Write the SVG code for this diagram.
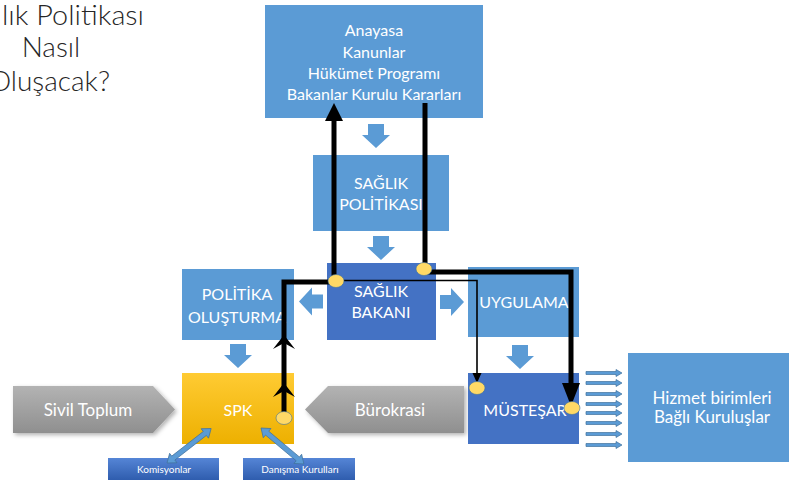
<svg xmlns="http://www.w3.org/2000/svg" width="789" height="486" viewBox="0 0 789 486">
<defs>
<style>
.box{fill:#5B9BD5;}
.dbox{fill:#4472C4;}
.t{font-family:Lato,"Liberation Sans",sans-serif;fill:#FFFFFF;text-anchor:middle;}
.m{font-size:16px;}
.g{font-size:17px;}
.s{font-size:10px;}
.title{font-family:Lato,"Liberation Sans",sans-serif;font-weight:300;font-size:28px;fill:#262626;}
.blk{fill:#5B9BD5;}
.thick{stroke:#000;stroke-width:5;fill:none;}
.thin{stroke:#000;stroke-width:1.6;fill:none;}
.dot{fill:#FFD966;stroke:#41719C;stroke-width:0.6;}
.ra{fill:#5B9BD5;stroke:#41719C;stroke-width:0.7;}
.dbl{fill:#5B9BD5;stroke:#41719C;stroke-width:0.7;}
</style>
<linearGradient id="gray" x1="0" y1="0" x2="0" y2="1">
<stop offset="0" stop-color="#B3B3B3"/>
<stop offset="1" stop-color="#8F8F8F"/>
</linearGradient>
<linearGradient id="gold" x1="0" y1="0" x2="0" y2="1">
<stop offset="0" stop-color="#FFCB33"/>
<stop offset="1" stop-color="#EDB000"/>
</linearGradient>
<linearGradient id="sb" x1="0" y1="0" x2="0" y2="1">
<stop offset="0" stop-color="#5585D6"/>
<stop offset="1" stop-color="#2F5DAE"/>
</linearGradient>
<filter id="sh" x="-10%" y="-20%" width="130%" height="150%">
<feDropShadow dx="2" dy="2" stdDeviation="2" flood-color="#000" flood-opacity="0.3"/>
</filter>
<path id="down" d="M-8,-12 H8 V-1 H14 L0,12 L-14,-1 H-8 Z"/>
<path id="left" d="M12,-7 H1 V-14 L-12,0 L1,14 V7 H12 Z"/>
<path id="rarr" d="M0,-1.5 H30 V-3.5 L36,0 L30,3.5 V1.5 H0 Z"/>
<path id="dblarr" d="M0,0 L8,-6 L8,-2.5 L48,-2.5 L48,-6 L56,0 L48,6 L48,2.5 L8,2.5 L8,6 Z"/>
</defs>

<g id="title">
<text class="title" x="2" y="25" textLength="142" lengthAdjust="spacingAndGlyphs">lık Politikası</text>
<text class="title" x="51" y="57" style="text-anchor:middle">Nasıl</text>
<text class="title" x="110" y="91" style="text-anchor:end">Oluşacak?</text>
</g>

<g id="node-anayasa">
<rect class="box" x="265" y="5" width="218" height="113"/>
<text class="t m" x="374" y="36">Anayasa</text>
<text class="t m" x="374" y="57.5">Kanunlar</text>
<text class="t m" x="374" y="79">Hükümet Programı</text>
<text class="t m" x="374" y="100">Bakanlar Kurulu Kararları</text>
</g>

<g id="node-saglik-politikasi">
<rect class="box" x="313" y="155" width="136" height="76"/>
<text class="t m" x="381" y="189">SAĞLIK</text>
<text class="t m" x="381" y="210">POLİTİKASI</text>
</g>

<g id="node-saglik-bakani">
<rect class="dbox" x="327" y="263" width="109" height="77"/>
<text class="t m" x="381" y="297">SAĞLIK</text>
<text class="t m" x="381" y="318">BAKANI</text>
</g>

<g id="node-politika-olusturma">
<rect class="box" x="182" y="269" width="112" height="71"/>
<text class="t m" x="237" y="300">POLİTİKA</text>
<text class="t m" x="237" y="323">OLUŞTURMA</text>
</g>

<g id="node-uygulama">
<rect class="box" x="468" y="267" width="111" height="70"/>
<text class="t m" x="524" y="308">UYGULAMA</text>
</g>

<g id="node-spk">
<rect x="182" y="373" width="112" height="71" fill="url(#gold)"/>
<text class="t m" x="238" y="416">SPK</text>
</g>

<g id="node-sivil-toplum">
<path d="M13,386 H153 L175,409.5 L153,433 H13 Z" fill="url(#gray)" filter="url(#sh)"/>
<text class="t g" x="88" y="416">Sivil Toplum</text>
</g>

<g id="node-burokrasi">
<path d="M305,409.5 L328,386 H464 V433 H328 Z" fill="url(#gray)" filter="url(#sh)"/>
<text class="t g" x="390" y="416">Bürokrasi</text>
</g>

<g id="node-mustesar">
<rect class="dbox" x="468" y="373" width="111" height="71"/>
<text class="t m" x="525" y="416">MÜSTEŞAR</text>
</g>

<g id="node-hizmet">
<rect class="box" x="628" y="353" width="161" height="109"/>
<text class="t g" x="712" y="404">Hizmet birimleri</text>
<text class="t g" x="712" y="423">Bağlı Kuruluşlar</text>
</g>

<g id="node-komisyonlar">
<rect x="108" y="458" width="111" height="22" fill="url(#sb)"/>
<text class="t s" x="164" y="473">Komisyonlar</text>
</g>

<g id="node-danisma">
<rect x="243" y="458" width="112" height="22" fill="url(#sb)"/>
<text class="t s" x="300" y="473">Danışma Kurulları</text>
</g>

<g id="connectors">
<use href="#down" class="blk" x="376" y="136"/>
<use href="#down" class="blk" x="381" y="248"/>
<use href="#down" class="blk" x="238" y="356"/>
<use href="#down" class="blk" x="520" y="357"/>
<use href="#left" class="blk" transform="translate(311,301.5)"/>
<use href="#left" class="blk" transform="translate(452,302) scale(-1,1)"/>

<use href="#rarr" class="ra" x="586" y="373"/>
<use href="#rarr" class="ra" x="586" y="383"/>
<use href="#rarr" class="ra" x="586" y="394"/>
<use href="#rarr" class="ra" x="586" y="404"/>
<use href="#rarr" class="ra" x="586" y="413"/>
<use href="#rarr" class="ra" x="586" y="423"/>
<use href="#rarr" class="ra" x="586" y="434"/>
<use href="#rarr" class="ra" x="586" y="445"/>

<use href="#dblarr" class="dbl" transform="translate(167,463) rotate(-38)"/>
<use href="#dblarr" class="dbl" transform="translate(261,428) rotate(40)"/>

<path class="thick" d="M334,281 V118"/>
<polygon points="334,103 325,121 343,121" fill="#000"/>

<path class="thick" d="M425,103 V269"/>
<path class="thick" d="M424,272 H571 V386"/>
<polygon points="562,383 580,383 571,406" fill="#000"/>

<path class="thin" d="M336,280.5 H477 V375"/>
<polygon points="472.5,373 481.5,373 477,383" fill="#000"/>

<path class="thick" d="M336,282 H284 V418"/>
<polygon points="284,335 295,349 284,343 273,349" fill="#000"/>
<polygon points="284,383 295,397 284,391 273,397" fill="#000"/>

<ellipse class="dot" cx="336" cy="281" rx="8" ry="6.5"/>
<ellipse class="dot" cx="424" cy="269" rx="8" ry="6.5"/>
<ellipse class="dot" cx="284" cy="418" rx="8" ry="6.5"/>
<ellipse class="dot" cx="477" cy="388" rx="8" ry="6.5"/>
<ellipse class="dot" cx="572" cy="408" rx="8" ry="6.5"/>
</g>
</svg>
